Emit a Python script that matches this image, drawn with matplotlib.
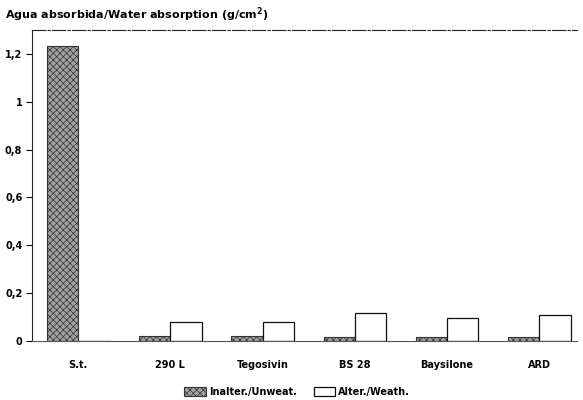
"""Water absorption of treated stone samples, unweathered vs weathered."""

import matplotlib

matplotlib.use("Agg")
import matplotlib.pyplot as plt
import numpy as np
from matplotlib.patches import Patch

treatments = ["S.t.", "290 L", "Tegosivin", "BS 28", "Baysilone", "ARD"]
unweathered = [1.235, 0.02, 0.02, 0.018, 0.018, 0.018]
weathered = [0.0, 0.079, 0.08, 0.115, 0.098, 0.11]
yticks = [0, 0.2, 0.4, 0.6, 0.8, 1.0, 1.2]
ytick_labels = ["0", "0,2", "0,4", "0,6", "0,8", "1", "1,2"]

plt.rcParams["font.family"] = ["DejaVu Sans"]
plt.rcParams["hatch.linewidth"] = 0.5

fig = plt.figure(figsize=(5.83, 4.0), dpi=100)
ax = fig.add_axes([0.055, 0.1475, 0.935, 0.7775])

x = np.arange(len(treatments))
w = 0.34
ax.bar(x - w / 2, unweathered, w, facecolor="#a0a0a0", edgecolor="#333333",
       hatch="xxxxx", linewidth=0.8)
ax.bar(x + w / 2, weathered, w, facecolor="white", edgecolor="#111111",
       linewidth=0.9)

ax.set_xlim(-0.5, 5.41)
ax.set_ylim(0, 1.3)
ax.set_yticks(yticks)
ax.set_yticklabels(ytick_labels, fontsize=7, fontweight="bold")
ax.set_xticks(x)
ax.set_xticklabels(treatments, fontsize=7, fontweight="bold")
ax.tick_params(axis="x", length=0, pad=14)
ax.tick_params(axis="y", length=4, width=0.8, direction="out", pad=3)

ax.spines["right"].set_visible(False)
for side in ("left", "top", "bottom"):
    ax.spines[side].set_linewidth(0.8)
    ax.spines[side].set_color("#222222")
ax.spines["top"].set_linestyle((0, (12, 2, 2, 2)))
ax.spines["bottom"].set_color("#555555")

fig.text(0.009, 0.962, "Agua absorbida/Water absorption (g/cm$^{\\mathbf{2}}$)",
         fontsize=8, fontweight="bold", ha="left", va="center")

handles = [
    Patch(facecolor="#a0a0a0", edgecolor="#333333", hatch="xxxxx", linewidth=0.8,
          label="Inalter./Unweat."),
    Patch(facecolor="white", edgecolor="#111111", linewidth=0.9,
          label="Alter./Weath."),
]
fig.legend(handles=handles, loc="center", bbox_to_anchor=(0.51, 0.02),
           ncol=2, frameon=False, prop={"size": 7, "weight": "bold"},
           handlelength=2.2, handleheight=1.0, handletextpad=0.3,
           columnspacing=1.8)

fig.savefig("out.png", dpi=100)
